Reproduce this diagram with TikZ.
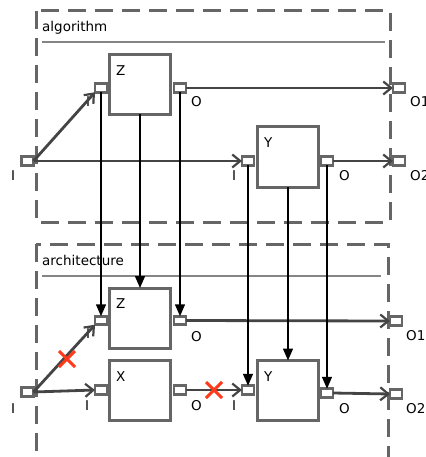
\documentclass[tikz,border=0pt]{standalone}
\usepackage{fontspec}
\setmainfont{DejaVu Sans}
\usetikzlibrary{arrows.meta,shapes.misc}
\definecolor{frame}{HTML}{666666}
\definecolor{conn}{HTML}{444444}
\definecolor{xred}{HTML}{FF3A1A}
\tikzset{
  frm/.style={draw=frame,line width=3pt,dash pattern=on 18pt off 9pt},
  sep/.style={draw=frame!80,line width=1.2pt},
  blk/.style={draw=frame,line width=3pt,fill=white,minimum width=61pt,minimum height=60pt,inner sep=0pt,outer sep=0pt},
  port/.style={draw=frame,line width=2.6pt,fill=white,minimum width=12pt,minimum height=8.5pt,inner sep=0pt,outer sep=0pt},
  lbl/.style={anchor=base west,inner sep=0pt,font=\fontsize{13.5}{16}\selectfont},
  thick conn/.style={draw=conn,line width=2.8pt,-{Straight Barb[length=8pt,width=13pt,line width=2.2pt]}},
  thin conn/.style={draw=black,line width=1.5pt,-{Triangle[length=12pt,width=10pt]}},
  cross/.style={cross out,draw=xred,line width=3pt,minimum size=13pt,inner sep=0pt}
}
\begin{document}
\begin{tikzpicture}[x=1pt,y=-1pt]
\useasboundingbox (0,0) rectangle (425,457);
\clip (0,0) rectangle (425,457);
% frames
\draw[frm] (36,11) rectangle (390,222);
\draw[frm] (36,244) rectangle (388,475);
\draw[sep] (42,42) -- (385,42);
\draw[sep] (42,276) -- (381,276);
\node[lbl] (talg) at (42,32) {algorithm};
\node[lbl] (tarch) at (42,265) {architecture};
% ---- algorithm ----
\node[blk] (zt) at (140,84.5) {};
\node[blk] (yt) at (288,157) {};
\node[port] (zti) at (101,88) {};
\node[port] (zto) at (180,88) {};
\node[port] (yti) at (248,161) {};
\node[port] (yto) at (327,161) {};
\node[port] (ti) at (27.5,161) {};
\node[port] (to1) at (399,88) {};
\node[port] (to2) at (399,161) {};
\node[lbl] (lzt) at (116,76) {Z};
\node[lbl] (lyt) at (264,148) {Y};
\node[lbl] (lti) at (11,180) {I};
\node[lbl] (lzti) at (86,107) {I};
\node[lbl] (lzto) at (191,107) {O};
\node[lbl] (lyti) at (232,180) {I};
\node[lbl] (lyto) at (339,180) {O};
\node[lbl] (lto1) at (410,107) {O1};
\node[lbl] (lto2) at (410,180) {O2};
\draw[thick conn] (ti.east) -- (zti.south west);
\draw[thick conn] (ti.east) -- (yti.west);
\draw[thick conn] (zto.east) -- (to1.west);
\draw[thick conn] (yto.east) -- (to2.west);
% ---- architecture ----
\node[blk] (zb) at (140,318) {};
\node[blk] (xb) at (140,390) {};
\node[blk] (yb) at (288,390.5) {};
\node[port] (zbi) at (101,320.5) {};
\node[port] (zbo) at (180,320.5) {};
\node[port] (xbi) at (101,390) {};
\node[port] (xbo) at (180,390) {};
\node[port] (ybi) at (248,390) {};
\node[port] (ybo) at (327,393) {};
\node[port] (bi) at (27.5,392) {};
\node[port] (bo1) at (396,321) {};
\node[port] (bo2) at (396,394) {};
\node[lbl] (lzb) at (116,308) {Z};
\node[lbl] (lxb) at (116,381) {X};
\node[lbl] (lyb) at (264,381) {Y};
\node[lbl] (lbi) at (11,413) {I};
\node[lbl] (lzbi) at (86,338) {I};
\node[lbl] (lzbo) at (191,341) {O};
\node[lbl] (lxbi) at (85,410) {I};
\node[lbl] (lxbo) at (191,410) {O};
\node[lbl] (lybi) at (232,410) {I};
\node[lbl] (lybo) at (339,413) {O};
\node[lbl] (lbo1) at (406,340) {O1};
\node[lbl] (lbo2) at (406,413) {O2};
\draw[thick conn] (bi.east) -- (zbi.south west);
\draw[thick conn] (bi.east) -- (xbi.west);
\draw[thick conn] (xbo.east) -- (ybi.west);
\draw[thick conn] (zbo.east) -- (bo1.west);
\draw[thick conn] (ybo.east) -- (bo2.west);
\node[cross] (x1) at (67,359) {};
\node[cross] (x2) at (214,390) {};
% ---- mapping ----
\draw[thin conn] (zti.south) -- (zbi.north);
\draw[thin conn] (zt.south) -- (zb.north);
\draw[thin conn] (zto.south) -- (zbo.north);
\draw[thin conn] (yti.south) -- (ybi.north);
\draw[thin conn] (yt.south) -- (yb.north);
\draw[thin conn] (yto.south) -- (ybo.north);
\end{tikzpicture}
\end{document}
